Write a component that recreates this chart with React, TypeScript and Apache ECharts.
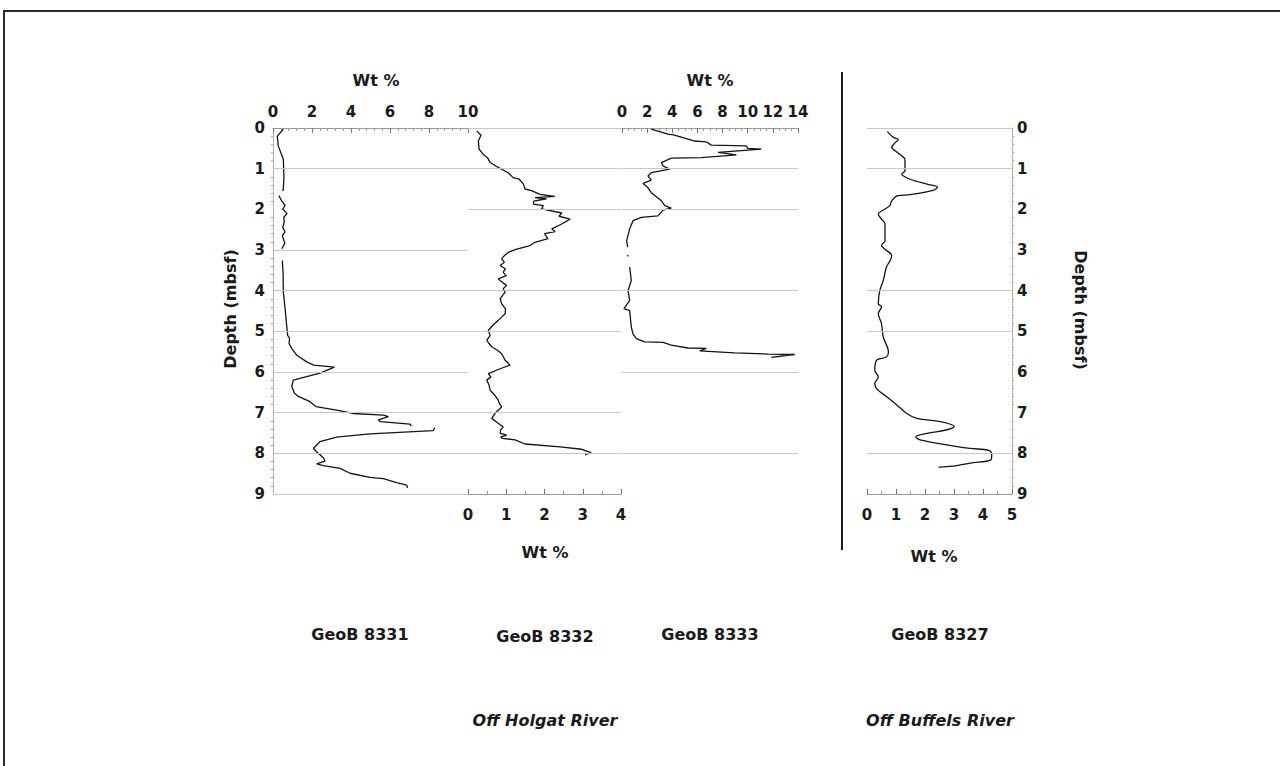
import React, { useEffect, useRef } from "react";
import * as echarts from "echarts";

// ---- Data (depth in mbsf, value in Wt %) ; null = gap in record ----
const depth8331 = [0.03,0.2,0.44,0.77,1.18,1.5,1.55,null,1.66,1.8,1.9,2.0,2.1,2.2,2.3,2.45,2.55,2.65,2.75,2.84,2.97,null,3.26,3.62,4.03,4.44,4.85,5.1,5.17,5.3,5.42,5.59,5.75,5.83,5.88,6.03,6.2,6.35,6.52,6.6,6.73,6.85,6.94,7.02,7.06,7.1,7.18,7.22,7.28,7.33,null,7.37,7.44,7.52,7.6,7.71,7.88,7.96,8.11,8.19,8.26,8.3,8.37,8.49,8.59,8.62,8.72,8.78,8.85];
const wt8331 =    [0.53,0.22,0.27,0.53,0.56,0.53,0.5,null,0.3,0.45,0.62,0.5,0.72,0.55,0.58,0.5,0.62,0.48,0.55,0.6,0.45,null,0.48,0.52,0.53,0.62,0.7,0.75,0.85,0.82,0.96,1.22,1.73,2.08,3.15,2.41,1.04,0.96,1.1,1.3,1.9,2.2,3.26,4.1,5.66,5.92,5.4,5.5,7.03,7.1,null,8.3,8.22,4.97,3.26,2.41,2.07,2.24,2.58,2.67,2.24,2.58,3.44,3.95,4.97,5.66,6.34,6.86,6.9];

const depth8332 = [0.07,0.18,0.32,0.52,0.65,0.73,0.85,0.97,1.1,1.22,1.26,1.38,1.5,1.54,1.63,1.68,1.71,1.74,1.8,1.87,1.91,1.99,2.09,2.17,2.24,2.36,2.48,2.55,2.6,2.72,2.81,2.89,2.99,3.06,3.14,3.22,3.3,3.38,3.46,3.55,3.63,3.71,3.8,3.87,3.95,4.04,4.12,4.2,4.32,4.45,4.57,4.65,4.73,4.85,4.98,5.1,5.22,5.3,5.38,5.47,5.55,5.71,5.83,5.92,6.04,6.12,6.2,6.32,6.45,6.57,6.69,6.78,6.86,7.0,7.14,7.26,7.35,7.43,7.51,7.55,7.6,7.63,7.67,7.77,7.84,7.9,7.98,8.04];
const wt8332 =    [0.23,0.34,0.27,0.29,0.4,0.51,0.58,0.79,1.05,1.18,1.34,1.45,1.49,1.66,1.88,2.27,1.75,2.05,1.72,1.71,1.97,1.92,2.45,2.38,2.67,2.45,2.19,2.28,2.0,2.09,1.75,1.62,1.23,1.05,0.95,0.88,0.95,0.84,0.98,0.92,1.0,0.79,0.9,1.01,0.92,0.97,0.9,0.84,0.88,0.98,0.97,0.88,0.79,0.65,0.53,0.58,0.49,0.55,0.62,0.78,0.88,0.97,1.1,0.84,0.53,0.6,0.49,0.55,0.58,0.7,0.79,0.82,0.88,0.72,0.62,0.79,0.92,0.85,0.84,1.01,0.85,0.9,1.23,1.49,2.41,2.97,3.22,3.06];

const depth8333 = [0.03,0.15,0.17,0.32,0.34,0.42,0.44,0.5,0.52,0.6,0.66,0.73,0.74,0.85,0.93,1.01,1.1,1.18,1.28,1.36,1.47,1.59,1.79,1.91,1.97,2.02,2.16,2.2,2.28,2.48,2.77,2.93,null,3.12,3.16,null,3.42,3.75,4.0,4.24,4.44,4.49,4.89,5.06,5.18,5.26,5.27,5.34,5.41,5.42,5.48,5.53,5.56,5.57,5.64];
const wt8333 =    [2.33,3.66,4.1,5.78,6.7,7.1,9.89,10.0,11.08,7.64,9.1,6.31,3.92,3.13,3.26,3.79,2.33,2.07,2.33,1.67,2.07,2.33,3.13,3.4,3.92,3.26,2.86,1.54,0.88,0.61,0.37,0.45,null,0.45,0.47,null,0.61,0.74,0.48,0.61,0.16,0.61,0.74,0.87,1.14,1.8,3.26,3.92,5.24,6.71,6.18,8.96,11.6,13.74,11.88];

const depth8327 = [0.09,0.23,0.28,0.36,0.48,0.56,0.69,0.77,1.05,1.13,1.26,1.38,1.45,1.53,1.64,1.67,1.79,1.91,1.99,2.12,2.24,2.36,2.77,2.89,2.98,3.14,3.27,3.42,3.75,4.0,4.32,4.4,4.56,4.81,5.14,5.51,5.63,5.71,5.96,6.12,6.28,6.41,6.61,6.81,7.02,7.14,7.22,7.34,7.42,7.51,7.59,7.67,7.79,7.88,7.93,8.04,8.16,8.24,8.3,8.34];
const wt8327 =    [0.7,0.91,1.08,0.97,0.85,0.97,1.2,1.31,1.31,1.2,1.49,2.07,2.43,2.3,1.49,1.04,0.85,0.79,0.62,0.39,0.5,0.62,0.62,0.5,0.62,0.85,0.79,0.67,0.56,0.44,0.39,0.5,0.39,0.5,0.56,0.74,0.67,0.33,0.27,0.39,0.27,0.33,0.68,1.03,1.37,1.72,2.53,3.01,2.76,2.07,1.68,1.83,2.76,3.56,4.2,4.3,4.27,3.56,3.1,2.47];

// gridline depths drawn in each panel
const grid8331 = [1, 3, 4, 5, 6, 7, 8, 9];
const grid8332 = [0, 1, 2, 4, 5, 7, 8];
const grid8333 = [1, 2, 4, 6, 8];
const grid8327 = [0, 1, 4, 5, 8];

const coreNames = ["GeoB 8331", "GeoB 8332", "GeoB 8333", "GeoB 8327"];
const regionNames = ["Off Holgat River", "Off Buffels River"];
const depthTitle = "Depth (mbsf)";
const wtTitle = "Wt %";

const FONT = "DejaVu Sans";

function pairs(depths: (number | null)[], vals: (number | null)[]) {
  return depths.map((d, i) => (d === null || vals[i] === null ? ["-", "-"] : [vals[i], d]));
}

export default function App() {
  const ref = useRef<HTMLDivElement>(null);
  useEffect(() => {
    if (!ref.current) return;
    const chart = echarts.init(ref.current, null, { renderer: "svg" });

    const lbl = { color: "#1a1a1a", fontFamily: FONT, fontWeight: "bold" as const, fontSize: 15 };
    const gridColor = "#c8c8c8";
    const axisColor = "#9a9a9a";

    const grids = [
      { left: 273, top: 128, width: 195, height: 366 },
      { left: 468, top: 128, width: 153, height: 366 },
      { left: 622, top: 128, width: 176, height: 366 },
      { left: 867, top: 128, width: 145, height: 366 },
    ];

    const xBase = (gi: number, pos: string, max: number, interval: number, minorSplit: number, margin: number) => ({
      type: "value",
      gridIndex: gi,
      position: pos,
      min: 0,
      max,
      interval,
      axisLine: { show: true, onZero: false, lineStyle: { color: axisColor, width: 1 } },
      axisTick: { show: true, inside: true, length: 5, lineStyle: { color: "#777" } },
      minorTick: { show: true, splitNumber: minorSplit, length: 3, lineStyle: { color: "#999" } },
      axisLabel: { ...lbl, margin },
      splitLine: { show: false },
    });

    const yBase = (gi: number, show: boolean, pos: string) => ({
      type: "value",
      gridIndex: gi,
      inverse: true,
      min: 0,
      max: 9,
      interval: 1,
      show,
      position: pos,
      axisLine: { show: true, onZero: false, lineStyle: { color: "#b0b0b0", width: 1 } },
      axisTick: { show: false },
      minorTick: { show: true, splitNumber: 5, length: 2, lineStyle: { color: "#aaa" } },
      axisLabel: { ...lbl, margin: pos === "left" ? 8 : 5 },
      splitLine: { show: false },
    });

    const gridSeries = (i: number, depths: number[]) => ({
      type: "line",
      xAxisIndex: i,
      yAxisIndex: i,
      data: [],
      silent: true,
      z: 1,
      markLine: {
        silent: true,
        symbol: ["none", "none"],
        label: { show: false },
        lineStyle: { color: gridColor, width: 1, type: "solid" },
        data: depths.map((d) => ({ yAxis: d })),
      },
    });

    const curve = (i: number, data: any[], smooth: number | boolean) => ({
      type: "line",
      xAxisIndex: i,
      yAxisIndex: i,
      data,
      z: 3,
      showSymbol: false,
      symbol: "none",
      smooth,
      connectNulls: false,
      lineStyle: { color: "#141414", width: 1.3 },
    });

    const text = (x: number, y: number, t: string, size: number, extra: any = {}) => ({
      type: "text",
      x,
      y,
      rotation: extra.rotation || 0,
      style: {
        text: t,
        fill: "#1a1a1a",
        font: `${extra.italic ? "italic " : ""}bold ${size}px "${FONT}"`,
        textAlign: "center",
        textVerticalAlign: "middle",
      },
    });

    chart.setOption({
      animation: false,
      backgroundColor: "#ffffff",
      grid: grids,
      xAxis: [
        xBase(0, "top", 10, 2, 5, 9),
        xBase(1, "bottom", 4, 1, 2, 13),
        xBase(2, "top", 14, 2, 4, 9),
        xBase(3, "bottom", 5, 1, 2, 13),
      ],
      yAxis: [yBase(0, true, "left"), yBase(1, false, "left"), yBase(2, false, "left"), yBase(3, true, "right")],
      series: [
        gridSeries(0, grid8331),
        gridSeries(1, grid8332),
        gridSeries(2, grid8333),
        gridSeries(3, grid8327),
        curve(0, pairs(depth8331, wt8331), false),
        curve(1, pairs(depth8332, wt8332), false),
        curve(2, pairs(depth8333, wt8333), false),
        curve(3, pairs(depth8327, wt8327), 0.35),
      ],
      graphic: [
        {
          type: "rect",
          shape: { x: 4, y: 11, width: 1300, height: 800 },
          style: { fill: "none", stroke: "#2a2a2a", lineWidth: 2 },
          silent: true,
        },
        {
          type: "line",
          shape: { x1: 842, y1: 72, x2: 842, y2: 550 },
          style: { stroke: "#1a1a1a", lineWidth: 2 },
          silent: true,
        },
        text(376, 80, wtTitle, 16),
        text(710, 80, wtTitle, 16),
        text(545, 552, wtTitle, 16),
        text(934, 556, wtTitle, 16),
        text(230, 309, depthTitle, 16, { rotation: Math.PI / 2 }),
        text(1080, 310, depthTitle, 16, { rotation: -Math.PI / 2 }),
        text(360, 634, coreNames[0], 16),
        text(545, 636, coreNames[1], 16),
        text(710, 634, coreNames[2], 16),
        text(940, 634, coreNames[3], 16),
        text(545, 720, regionNames[0], 16, { italic: true }),
        text(940, 720, regionNames[1], 16, { italic: true }),
      ],
    });

    return () => chart.dispose();
  }, []);

  return (
    <div
      ref={ref}
      style={{ position: "absolute", left: 0, top: 0, width: 1280, height: 766 }}
    />
  );
}
